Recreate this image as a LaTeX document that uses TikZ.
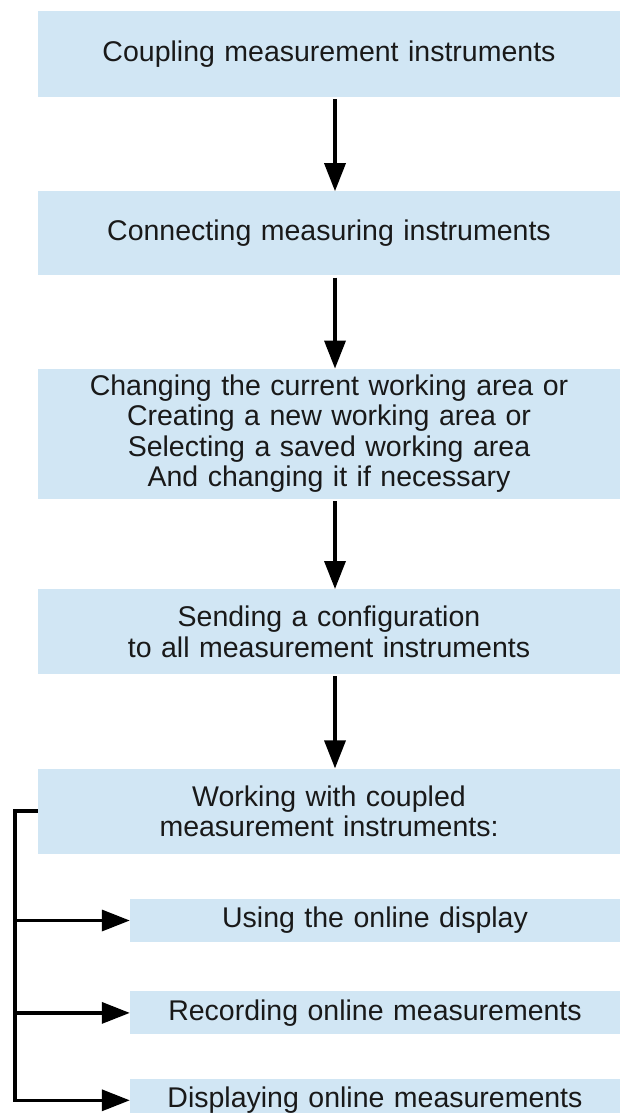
\documentclass[tikz,border=0pt]{standalone}
\usepackage{fontspec}
\setmainfont{Liberation Sans}
\usepackage{tikz}
\usetikzlibrary{arrows.meta}
\usetikzlibrary{positioning}
\definecolor{light blue}{RGB}{209,230,244}
\tikzstyle{link}=[line width=3.5pt,-{Triangle[length=28pt,width=21pt]}]

\begin{document}
\begin{tikzpicture}[
  x=1pt,y=1pt,
  font=\fontsize{28.5}{30.5}\selectfont,
  text=black!90,
  block/.style={fill=light blue,inner sep=0,minimum width=582pt,text width=560pt,align=center},
  small block/.style={block,minimum width=490pt,text width=470pt,minimum height=43pt},
]
  \useasboundingbox (0,0) rectangle (620,-1113);
  % main chain
  \node[block,minimum height=86pt] (b1) at (329,-54) {Coupling measurement instruments};
  \node[block,minimum height=84pt,below=94pt of b1] (b2) {Connecting measuring instruments};
  \node[block,minimum height=130pt,below=93pt of b2] (b3) {Changing the current working area or\\
    Creating a new working area or\\ Selecting a saved working area\\ And changing it if necessary};
  \node[block,minimum height=85pt,below=90pt of b3] (b4) {Sending a configuration\\ to all measurement instruments};
  \node[block,minimum height=85pt,below=94pt of b4] (b5) {Working with coupled\\ measurement instruments:};
  % sub steps
  \node[small block,below right=45pt and 92pt of b5.south west] (s1) {Using the online display};
  \node[small block,below=49pt of s1] (s2) {Recording online measurements};
  \node[small block,below=44pt of s2] (s3) {Displaying online measurements};

  \foreach \a/\b in {b1/b2,b2/b3,b3/b4,b4/b5}
    \draw[link] ([xshift=6pt,yshift=-2pt]\a.south) -- ([xshift=6pt]\b.north);

  \coordinate[left=23pt of b5.west] (k);
  \draw[link] (b5.west) -- (k) |- (s3.west);
  \foreach \s in {s1,s2}
    \draw[link] (k |- \s.west) -- (\s.west);
\end{tikzpicture}
\end{document}
